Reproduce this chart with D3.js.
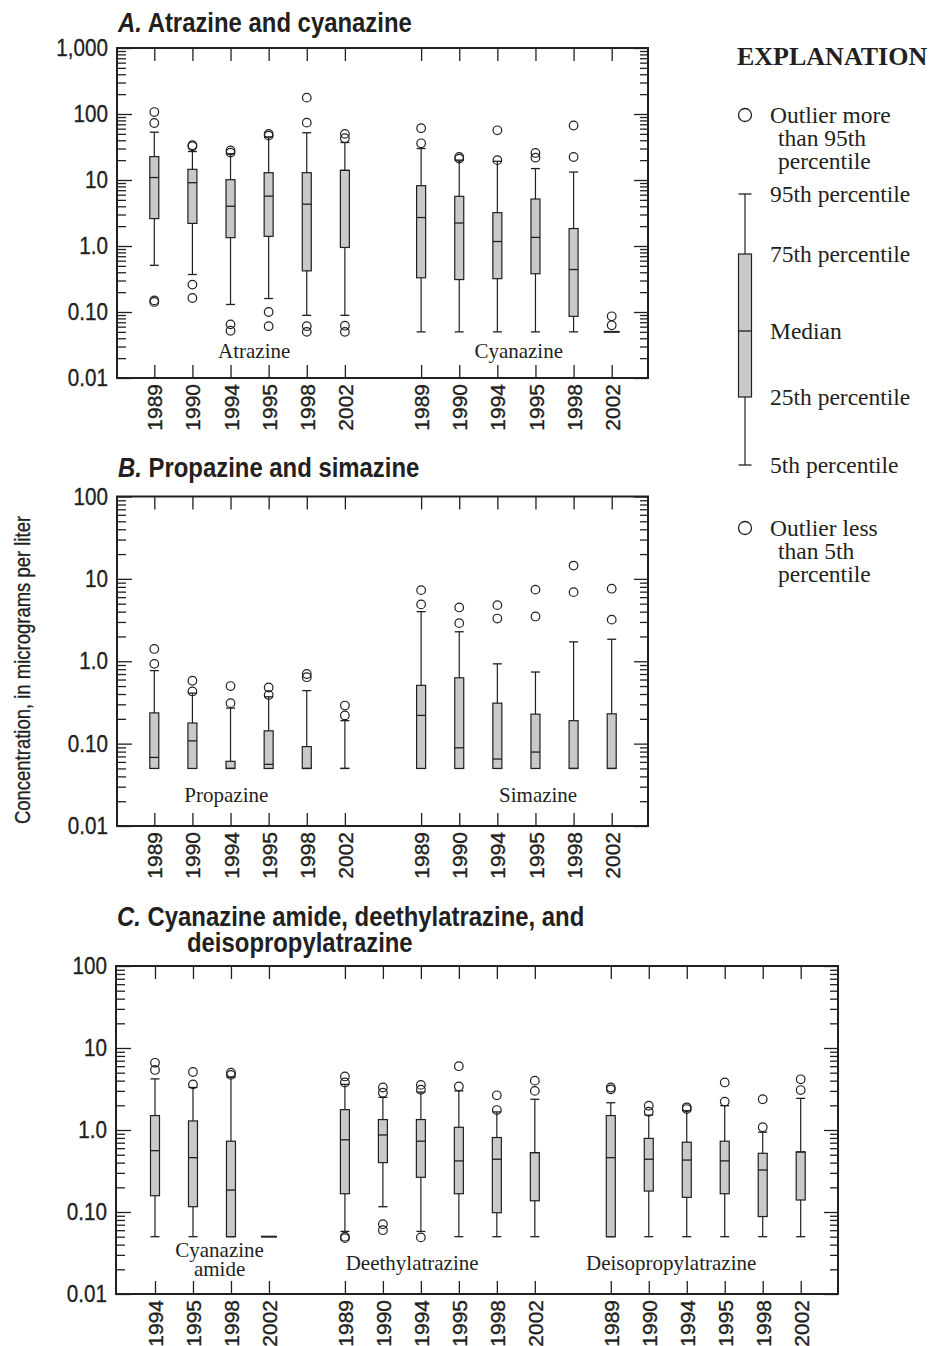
<!DOCTYPE html>
<html><head><meta charset="utf-8">
<script src="https://cdn.jsdelivr.net/npm/d3@7"></script>
<style>
html,body{margin:0;padding:0;background:#fff;}
svg{display:block;}
</style></head><body>
<svg id="chart" width="929" height="1346"></svg>
<script>
// ---------------- data (micrograms per liter) ----------------
const yearsFull  = ["1989", "1990", "1994", "1995", "1998", "2002"];
const yearsAmide = ["1994", "1995", "1998", "2002"];

// rows: [5th, 25th, median, 75th, 95th percentile]
const atrazineStats = [[0.51, 2.6, 10.9, 22.6, 53], [0.37, 2.2, 9.1, 14.5, 27], [0.13, 1.34, 4.0, 10.1, 25],
                       [0.16, 1.4, 5.7, 12.9, 45], [0.089, 0.42, 4.3, 12.9, 52], [0.089, 0.95, 14, 14, 37]];
const atrazineHigh  = [[107, 73], [33.6, 32.4], [28, 26], [50, 47], [177, 74], [50, 43]];
const atrazineLow   = [[0.15, 0.142], [0.26, 0.163], [0.065, 0.052], [0.10, 0.061], [0.061, 0.05], [0.062, 0.05]];

const cyanazineStats = [[0.05, 0.33, 2.7, 8.2, 30], [0.05, 0.31, 2.23, 5.66, 20], [0.05, 0.32, 1.17, 3.2, 19.2],
                        [0.05, 0.38, 1.35, 5.15, 14.9], [0.05, 0.086, 0.44, 1.84, 13.2], [0.05, 0.05, 0.05, 0.05, 0.05]];
const cyanazineHigh  = [[61, 36], [22.3, 21.1], [56.6, 20], [25.7, 21.8], [67, 22.3], [0.086, 0.063]];
const cyanazineLow   = [[], [], [], [], [], []];

const propazineStats = [[0.05, 0.05, 0.068, 0.236, 0.77], [0.05, 0.05, 0.108, 0.178, 0.41], [0.05, 0.05, 0.05, 0.061, 0.27],
                        [0.05, 0.05, 0.056, 0.143, 0.37], [0.05, 0.05, 0.05, 0.092, 0.44], [0.05, 0.05, 0.05, 0.05, 0.19]];
const propazineHigh  = [[1.41, 0.93], [0.58, 0.43], [0.50, 0.31], [0.48, 0.39], [0.70, 0.64], [0.29, 0.22]];
const propazineLow   = [[], [], [], [], [], []];

const simazineStats = [[0.05, 0.05, 0.22, 0.51, 4.0], [0.05, 0.05, 0.089, 0.63, 2.28], [0.05, 0.05, 0.065, 0.31, 0.93],
                       [0.05, 0.05, 0.079, 0.228, 0.74], [0.05, 0.05, 0.05, 0.19, 1.72], [0.05, 0.05, 0.05, 0.23, 1.85]];
const simazineHigh  = [[7.3, 4.9], [4.5, 2.9], [4.8, 3.3], [7.4, 3.5], [14.5, 6.9], [7.6, 3.2]];
const simazineLow   = [[], [], [], [], [], []];

const amideStats = [[0.05, 0.158, 0.56, 1.5, 4.2], [0.05, 0.116, 0.46, 1.29, 3.3], [0.05, 0.05, 0.185, 0.73, 4.4],
                    [0.05, 0.05, 0.05, 0.05, 0.05]];
const amideHigh  = [[6.6, 5.4], [5.1, 3.6], [5.0, 4.7], []];
const amideLow   = [[], [], [], []];

const deethylStats = [[0.058, 0.167, 0.76, 1.77, 3.6], [0.116, 0.40, 0.87, 1.34, 2.5], [0.058, 0.265, 0.73, 1.34, 2.9],
                      [0.05, 0.167, 0.42, 1.08, 3.0], [0.05, 0.098, 0.44, 0.81, 1.66], [0.05, 0.137, 0.53, 0.53, 2.37]];
const deethylHigh  = [[4.5, 3.8], [3.3, 2.85], [3.55, 3.1], [6.0, 3.4], [2.65, 1.75], [4.0, 3.0]];
const deethylLow   = [[0.05, 0.048], [0.071, 0.06], [0.049], [], [], []];

const deisoStats = [[0.05, 0.05, 0.46, 1.5, 2.15], [0.05, 0.18, 0.44, 0.79, 1.52], [0.05, 0.151, 0.43, 0.71, 1.72],
                    [0.05, 0.167, 0.42, 0.73, 1.98], [0.05, 0.088, 0.325, 0.52, 0.94], [0.05, 0.14, 0.54, 0.54, 2.43]];
const deisoHigh  = [[3.3, 3.13], [1.98, 1.67], [1.89, 1.8], [3.8, 2.22], [2.37, 1.08], [4.15, 3.07]];
const deisoLow   = [[], [], [], [], [], []];

const tickValuesA  = [0.01, 0.1, 1, 10, 100, 1000];
const tickLabelsA  = ["0.01", "0.10", "1.0", "10", "100", "1,000"];
const tickValuesBC = [0.01, 0.1, 1, 10, 100];
const tickLabelsBC = ["0.01", "0.10", "1.0", "10", "100"];

// ---------------- styling ----------------
const SANS  = "'Liberation Sans',Arial,Helvetica,sans-serif";
const SERIF = "'Liberation Serif','Times New Roman','DejaVu Serif',serif";
const INK = "#231f20";
const BOX_FILL = "#c8c9ca";
const BOX_W = 9;
const OUT_R = 4.3;
const NARROW_TICK = 0.86;   // horizontal squeeze giving a condensed face
const NARROW_TITLE = 0.885;

const svg = d3.select("#chart");
svg.append("rect").attr("width", 929).attr("height", 1346).attr("fill", "#fff");

// slightly heavier sans lettering
const heavy = sel => sel.attr("stroke", INK).attr("stroke-width", 0.35);

function drawPanel(p) {
  const g = svg.append("g");
  const y = d3.scaleLog().domain([0.01, p.yMax]).range([p.bottom, p.top]);
  const x = d3.scaleLinear().domain([0, p.slotMax]).range([p.xFirst, p.xLast]);

  // year ticks along bottom and top
  const slots = [], yearBySlot = {};
  p.series.forEach(s => s.years.forEach((yr, i) => { slots.push(s.start + i); yearBySlot[s.start + i] = yr; }));

  const bottomAxis = g.append("g").attr("transform", `translate(0,${p.bottom})`)
    .call(d3.axisBottom(x).tickValues(slots).tickSize(-13).tickFormat(d => yearBySlot[d]));
  bottomAxis.selectAll("text")
    .attr("transform", "rotate(-90) translate(-6,0)").attr("x", 0).attr("y", 0).attr("dy", "0.36em")
    .attr("text-anchor", "end").attr("fill", INK)
    .style("font-family", SANS).style("font-size", "21px").call(heavy);
  g.append("g").attr("transform", `translate(0,${p.top})`)
    .call(d3.axisTop(x).tickValues(slots).tickSize(-13).tickFormat(""));

  // logarithmic ticks on both sides, pointing inward
  const majors = p.tickValues;
  const minors = y.ticks().filter(v => !majors.some(m => Math.abs(m - v) / m < 1e-9));
  const leftAxis = g.append("g").attr("transform", `translate(${p.left},0)`)
    .call(d3.axisLeft(y).tickValues(majors).tickSize(-15)
      .tickFormat((d, i) => p.tickLabels[i]));
  leftAxis.selectAll("text")
    .attr("x", 0).attr("transform", `translate(-9,0) scale(${NARROW_TICK},1)`)
    .attr("fill", INK).style("font-family", SANS).style("font-size", "24px").call(heavy);
  g.append("g").attr("transform", `translate(${p.left},0)`)
    .call(d3.axisLeft(y).tickValues(minors).tickSize(-9).tickFormat(""));
  g.append("g").attr("transform", `translate(${p.right},0)`)
    .call(d3.axisRight(y).tickValues(majors).tickSize(-14).tickFormat(""));
  g.append("g").attr("transform", `translate(${p.right},0)`)
    .call(d3.axisRight(y).tickValues(minors).tickSize(-8).tickFormat(""));

  g.selectAll(".domain").remove();
  g.selectAll(".tick line").attr("stroke", INK).attr("stroke-width", 1.3);

  // frame
  g.append("rect").attr("x", p.left).attr("y", p.top)
    .attr("width", p.right - p.left).attr("height", p.bottom - p.top)
    .attr("fill", "none").attr("stroke", INK).attr("stroke-width", 2);

  // boxes
  p.series.forEach(s => {
    s.stats.forEach((st, i) => {
      const cx = x(s.start + i);
      const [p5, q1, med, q3, p95] = st;
      const bg = g.append("g");
      const flat = q1 === q3 && p5 === p95;
      if (flat) {
        bg.append("line").attr("x1", cx - 8).attr("x2", cx + 8).attr("y1", y(med)).attr("y2", y(med))
          .attr("stroke", INK).attr("stroke-width", 2);
      } else {
        bg.append("line").attr("x1", cx).attr("x2", cx).attr("y1", y(p5)).attr("y2", y(p95))
          .attr("stroke", INK).attr("stroke-width", 1.2);
        [p5, p95].forEach(v => bg.append("line")
          .attr("x1", cx - BOX_W / 2).attr("x2", cx + BOX_W / 2).attr("y1", y(v)).attr("y2", y(v))
          .attr("stroke", INK).attr("stroke-width", 1.3));
        if (q3 > q1) {
          bg.append("rect").attr("x", cx - BOX_W / 2).attr("width", BOX_W)
            .attr("y", y(q3)).attr("height", y(q1) - y(q3))
            .attr("fill", BOX_FILL).attr("stroke", INK).attr("stroke-width", 1.2);
        }
        bg.append("line").attr("x1", cx - BOX_W / 2).attr("x2", cx + BOX_W / 2).attr("y1", y(med)).attr("y2", y(med))
          .attr("stroke", INK).attr("stroke-width", 1.3);
      }
      [...s.high[i], ...s.low[i]].forEach(v => bg.append("circle")
        .attr("cx", cx).attr("cy", y(v)).attr("r", OUT_R)
        .attr("fill", "none").attr("stroke", INK).attr("stroke-width", 1.2));
    });
    // compound name inside the panel
    s.label.forEach((line, k) => g.append("text")
      .attr("x", x(s.labelSlot)).attr("y", p.bottom + s.labelDy[k])
      .attr("text-anchor", "middle").attr("fill", INK)
      .style("font-family", SERIF).style("font-size", "21px").text(line));
  });

  // panel title
  p.title.forEach(t => {
    const tt = g.append("text").attr("transform", `translate(${t.x},${t.y}) scale(${NARROW_TITLE},1)`)
      .attr("fill", INK)
      .style("font-family", SANS).style("font-size", "27px").style("font-weight", "bold");
    if (t.letter) tt.append("tspan").style("font-style", "italic").text(t.letter);
    tt.append("tspan").text(t.text);
  });
}

drawPanel({
  top: 48, bottom: 378, left: 117, right: 648, yMax: 1000,
  slotMax: 12, xFirst: 154.3, xLast: 611.7,
  tickValues: tickValuesA, tickLabels: tickLabelsA,
  title: [{ x: 118, y: 32, letter: "A.", text: " Atrazine and cyanazine" }],
  series: [
    { years: yearsFull, stats: atrazineStats, high: atrazineHigh, low: atrazineLow, start: 0,
      label: ["Atrazine"], labelSlot: 2.62, labelDy: [-20] },
    { years: yearsFull, stats: cyanazineStats, high: cyanazineHigh, low: cyanazineLow, start: 7,
      label: ["Cyanazine"], labelSlot: 9.56, labelDy: [-20] }
  ]
});

drawPanel({
  top: 496.5, bottom: 826, left: 117, right: 648, yMax: 100,
  slotMax: 12, xFirst: 154.3, xLast: 611.7,
  tickValues: tickValuesBC, tickLabels: tickLabelsBC,
  title: [{ x: 118, y: 477, letter: "B.", text: " Propazine and simazine" }],
  series: [
    { years: yearsFull, stats: propazineStats, high: propazineHigh, low: propazineLow, start: 0,
      label: ["Propazine"], labelSlot: 1.89, labelDy: [-24] },
    { years: yearsFull, stats: simazineStats, high: simazineHigh, low: simazineLow, start: 7,
      label: ["Simazine"], labelSlot: 10.07, labelDy: [-24] }
  ]
});

drawPanel({
  top: 966, bottom: 1294, left: 116, right: 838, yMax: 100,
  slotMax: 17, xFirst: 155, xLast: 800.7,
  tickValues: tickValuesBC, tickLabels: tickLabelsBC,
  title: [{ x: 117, y: 926, letter: "C.", text: " Cyanazine amide, deethylatrazine, and" },
          { x: 187, y: 952, letter: "", text: "deisopropylatrazine" }],
  series: [
    { years: yearsAmide, stats: amideStats, high: amideHigh, low: amideLow, start: 0,
      label: ["Cyanazine", "amide"], labelSlot: 1.70, labelDy: [-37, -18] },
    { years: yearsFull, stats: deethylStats, high: deethylHigh, low: deethylLow, start: 5,
      label: ["Deethylatrazine"], labelSlot: 6.77, labelDy: [-24] },
    { years: yearsFull, stats: deisoStats, high: deisoHigh, low: deisoLow, start: 12,
      label: ["Deisopropylatrazine"], labelSlot: 13.59, labelDy: [-24] }
  ]
});

// shared y-axis title
svg.append("text").attr("transform", `translate(30,670) rotate(-90) scale(${NARROW_TICK},1)`)
  .attr("text-anchor", "middle").attr("fill", INK)
  .style("font-family", SANS).style("font-size", "21.5px").call(heavy)
  .text("Concentration, in micrograms per liter");

// ---------------- explanation ----------------
const lg = svg.append("g");
const legendText = (x, y, s) => lg.append("text").attr("x", x).attr("y", y).attr("dy", "0.33em")
  .attr("fill", INK).style("font-family", SERIF).style("font-size", "23.5px").text(s);

lg.append("text").attr("x", 737).attr("y", 65).attr("fill", INK)
  .style("font-family", SERIF).style("font-size", "26px").style("font-weight", "bold").text("EXPLANATION");

const LX = 745, TX = 770;
lg.append("circle").attr("cx", LX).attr("cy", 115).attr("r", 6.5)
  .attr("fill", "none").attr("stroke", INK).attr("stroke-width", 1.3);
legendText(TX, 115, "Outlier more");
legendText(TX + 8, 138, "than 95th");
legendText(TX + 8, 161, "percentile");

const kP95 = 194, kQ3 = 254, kMed = 331, kQ1 = 397, kP5 = 465;
lg.append("line").attr("x1", LX).attr("x2", LX).attr("y1", kP95).attr("y2", kP5).attr("stroke", INK).attr("stroke-width", 1.2);
[kP95, kP5].forEach(v => lg.append("line").attr("x1", LX - 6.5).attr("x2", LX + 6.5).attr("y1", v).attr("y2", v)
  .attr("stroke", INK).attr("stroke-width", 1.3));
lg.append("rect").attr("x", LX - 6.5).attr("width", 13).attr("y", kQ3).attr("height", kQ1 - kQ3)
  .attr("fill", BOX_FILL).attr("stroke", INK).attr("stroke-width", 1.2);
lg.append("line").attr("x1", LX - 6.5).attr("x2", LX + 6.5).attr("y1", kMed).attr("y2", kMed)
  .attr("stroke", INK).attr("stroke-width", 1.3);
legendText(TX, kP95, "95th percentile");
legendText(TX, kQ3, "75th percentile");
legendText(TX, kMed, "Median");
legendText(TX, kQ1, "25th percentile");
legendText(TX, kP5, "5th percentile");

lg.append("circle").attr("cx", LX).attr("cy", 528).attr("r", 6.5)
  .attr("fill", "none").attr("stroke", INK).attr("stroke-width", 1.3);
legendText(TX, 528, "Outlier less");
legendText(TX + 8, 551, "than 5th");
legendText(TX + 8, 574, "percentile");
</script>
</body></html>
